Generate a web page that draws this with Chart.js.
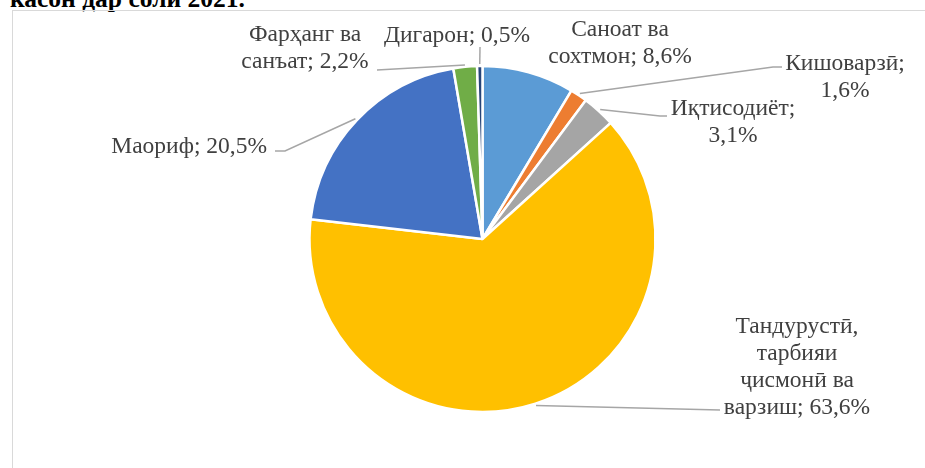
<!DOCTYPE html>
<html>
<head>
<meta charset="utf-8">
<script src="https://cdn.jsdelivr.net/npm/chart.js@4.4.0/dist/chart.umd.min.js"></script>
<style>
  body { margin: 0; background: #fff; overflow: hidden; }
  #wrap { position: relative; width: 925px; height: 468px; }
  #title {
    position: absolute; left: 10px; top: -14px;
    font: bold 25.5px/25px "Liberation Serif", "DejaVu Serif", serif;
    color: #000; white-space: nowrap;
  }
  #frame {
    position: absolute; left: 12px; top: 10px; width: 940px; height: 480px;
    border: 1.5px solid #d9d9d9; box-sizing: border-box;
  }
  canvas { position: absolute; left: 0; top: 0; }
</style>
</head>
<body>
<div id="wrap">
  <div id="title">касон дар соли 2021.</div>
  <div id="frame"></div>
  <canvas id="pieChart" width="925" height="468"></canvas>
</div>
<script>
// Sectors, clockwise from 12 o'clock
const categories = [
    'Саноат ва сохтмон',
    'Кишоварзӣ',
    'Иқтисодиёт',
    'Тандурустӣ, тарбияи ҷисмонӣ ва варзиш',
    'Маориф',
    'Фарҳанг ва санъат',
    'Дигарон'
];
const shares = [8.6, 1.6, 3.1, 63.6, 20.5, 2.2, 0.5];
const sliceColors = ['#5b9bd5', '#ed7d31', '#a5a5a5', '#ffc000', '#4472c4', '#70ad47', '#264478'];

// Label text as it is wrapped in the picture
const labelLines = [
    ['Саноат ва', 'сохтмон; 8,6%'],
    ['Кишоварзӣ;', '1,6%'],
    ['Иқтисодиёт;', '3,1%'],
    ['Тандурустӣ,', 'тарбияи', 'ҷисмонӣ ва', 'варзиш; 63,6%'],
    ['Маориф; 20,5%'],
    ['Фарҳанг ва', 'санъат; 2,2%'],
    ['Дигарон; 0,5%']
];

// Where each label sits (x, first baseline) and how its leader line bends
const labelPlace = [
    { x: 620, y: 36, align: 'center', leader: null },
    { x: 845, y: 70, align: 'center', leader: [[773, 67], [782, 67]] },
    { x: 733, y: 115, align: 'center', leader: [[660, 116], [667, 116]] },
    { x: 797, y: 333, align: 'center', leader: [[720, 410]] },
    { x: 267, y: 153, align: 'right', leader: [[285, 151], [275, 151]] },
    { x: 305, y: 41, align: 'center', leader: [[377, 70]] },
    { x: 457, y: 42, align: 'center', leader: [[480, 47]] }
];
const lineHeight = 27;
const labelFont = '23.5px "Liberation Serif", "DejaVu Serif", serif';

const outsideLabels = {
    id: 'outsideLabels',
    afterDatasetsDraw(chart) {
        const c = chart.ctx;
        const arcs = chart.getDatasetMeta(0).data;
        c.save();
        arcs.forEach((arc, i) => {
            const p = labelPlace[i];
            if (p.leader) {
                const mid = (arc.startAngle + arc.endAngle) / 2;
                const r = arc.outerRadius + 2;
                c.beginPath();
                c.moveTo(arc.x + Math.cos(mid) * r, arc.y + Math.sin(mid) * r);
                p.leader.forEach(pt => c.lineTo(pt[0], pt[1]));
                c.strokeStyle = '#a6a6a6';
                c.lineWidth = 1.5;
                c.stroke();
            }
            c.fillStyle = '#404040';
            c.font = labelFont;
            c.textAlign = p.align;
            c.textBaseline = 'alphabetic';
            labelLines[i].forEach((t, k) => c.fillText(t, p.x, p.y + k * lineHeight));
        });
        c.restore();
    }
};

const ctx = document.getElementById('pieChart').getContext('2d');
const pieChart = new Chart(ctx, {
    type: 'pie',
    data: {
        labels: categories,
        datasets: [{
            data: shares,
            backgroundColor: sliceColors,
            borderColor: '#ffffff',
            borderWidth: 2.5,
            radius: 173
        }]
    },
    options: {
        responsive: false,
        animation: false,
        layout: { padding: { left: 311, right: 271, top: 68, bottom: 58 } },
        plugins: {
            legend: { display: false },
            tooltip: { enabled: false }
        }
    },
    plugins: [outsideLabels]
});
</script>
</body>
</html>
